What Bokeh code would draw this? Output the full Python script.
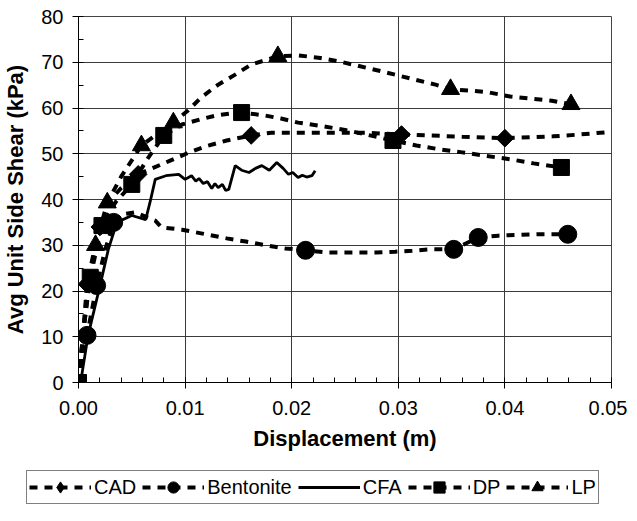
from bokeh.plotting import figure
from bokeh.layouts import column
from bokeh.models import Legend, LegendItem, Range1d, FixedTicker, NumeralTickFormatter
from bokeh.embed import file_html
from bokeh.resources import INLINE

# ---- data ----
cad_x = [0, 0.0004, 0.0008, 0.0013, 0.002, 0.003, 0.004, 0.0056, 0.0069, 0.0086, 0.0101, 0.0119,
         0.0139, 0.0162, 0.0181, 0.0199, 0.0219, 0.0241, 0.027, 0.0303, 0.033, 0.036, 0.040,
         0.0425, 0.0445, 0.047, 0.050]
cad_y = [0, 10, 21.5, 27, 34, 40, 42.5, 45.5, 46.8, 48.5, 50.0, 51.6, 52.9, 54.0, 54.6, 54.6,
         54.6, 54.6, 54.6, 54.2, 54.0, 53.7, 53.4, 53.6, 53.8, 54.2, 54.8]
cad_mx = [0.0008, 0.002, 0.0056, 0.0162, 0.0303, 0.040]
cad_my = [21.5, 34, 45.5, 54.0, 54.2, 53.4]

ben_x = [0, 0.0003, 0.0008, 0.0017, 0.0025, 0.0033, 0.004, 0.0053, 0.0072, 0.0078, 0.0097,
         0.0115, 0.0139, 0.0157, 0.0178, 0.0194, 0.0213, 0.0235, 0.0258, 0.0279, 0.0297, 0.0313,
         0.033, 0.0352, 0.0375, 0.0394, 0.0432, 0.0459]
ben_y = [0, 5, 10.3, 21.2, 29, 35, 36.7, 37.2, 35.4, 33.9, 33.4, 32.6, 31.5, 30.8, 29.9, 29.3,
         28.9, 28.4, 28.4, 28.4, 28.6, 28.8, 29.1, 29.1, 31.7, 32.1, 32.4, 32.4]
ben_mx = [0.0008, 0.0017, 0.0033, 0.0213, 0.0352, 0.0375, 0.0459]
ben_my = [10.3, 21.2, 35, 28.9, 29.1, 31.7, 32.4]

cfa_x = [0, 0.0003, 0.0009, 0.002, 0.0028, 0.0036, 0.005, 0.0063, 0.0067, 0.0072, 0.0082,
         0.0094, 0.0100, 0.0106, 0.0110, 0.0113, 0.0117, 0.0121, 0.0125, 0.0128, 0.0131, 0.0135,
         0.0138, 0.0141, 0.0147, 0.0153, 0.0160, 0.0166, 0.0172, 0.0179, 0.0186, 0.0192, 0.0197,
         0.0201, 0.0206, 0.0210, 0.0214, 0.0219, 0.0222]
cfa_y = [0, 1.5, 10.3, 21, 29.1, 35, 36.5, 35.6, 39.3, 44.4, 45.2, 45.5, 44.4, 45.2, 44.0,
         44.6, 43.5, 43.9, 42.4, 43.5, 42.6, 43.3, 42.0, 42.2, 47.4, 46.4, 45.9, 46.8, 47.4,
         46.4, 48.1, 46.8, 45.5, 45.9, 44.8, 45.3, 44.9, 45.2, 46.3]

dp_x = [0, 0.0005, 0.0011, 0.0022, 0.0035, 0.005, 0.0065, 0.008, 0.0097, 0.0114, 0.013, 0.0143,
        0.0153, 0.0174, 0.019, 0.0206, 0.0227, 0.025, 0.027, 0.0295, 0.0317, 0.0338, 0.036,
        0.038, 0.0405, 0.0427, 0.0453]
dp_y = [0, 12, 23, 34.3, 39.5, 43.3, 49, 54, 56.4, 57.5, 58.4, 58.8, 59.0, 58.4, 57.7, 56.8,
        56.1, 55.2, 54.2, 52.9, 51.8, 51.0, 50.3, 49.6, 48.8, 47.9, 47.0]
dp_mx = [0, 0.0011, 0.0022, 0.005, 0.008, 0.0153, 0.0295, 0.0453]
dp_my = [0, 23, 34.3, 43.3, 54, 59, 52.9, 47]

lp_x = [0, 0.0005, 0.0010, 0.0016, 0.0027, 0.004, 0.0059, 0.0075, 0.0089, 0.0103, 0.0115,
        0.0131, 0.0147, 0.0162, 0.0187, 0.0206, 0.0225, 0.0244, 0.0261, 0.0281, 0.030, 0.0319,
        0.0335, 0.0349, 0.0368, 0.0385, 0.0405, 0.0422, 0.0444, 0.0462]
lp_y = [0, 12, 22, 30, 39.3, 45, 51.8, 54.5, 56.8, 59.5, 62.3, 65.1, 67.3, 69.5, 71.3, 71.5,
        71.0, 70.2, 69.3, 68.2, 67.1, 66.0, 65.1, 64.1, 63.8, 63.4, 62.5, 62.1, 61.6, 60.8]
lp_mx = [0.0016, 0.0027, 0.0059, 0.0089, 0.0187, 0.0349, 0.0462]
lp_my = [30, 39.3, 51.8, 56.8, 71.3, 64.1, 60.8]

series_names = ["CAD", "Bentonite", "CFA", "DP", "LP"]
x_ticks = [0.00, 0.01, 0.02, 0.03, 0.04, 0.05]
y_ticks = [0, 10, 20, 30, 40, 50, 60, 70, 80]

FONT = "Liberation Sans"
DASH = "8 7"
LW = 4
CFA_W = 2.8

p = figure(frame_width=533, frame_height=366, output_backend="svg", toolbar_location=None,
           x_range=Range1d(0, 0.05), y_range=Range1d(0, 80),
           min_border_left=72, min_border_right=16, min_border_top=16, min_border_bottom=80)

p.outline_line_color = "#444444"
p.xgrid.ticker = FixedTicker(ticks=x_ticks)
p.ygrid.ticker = FixedTicker(ticks=y_ticks)
p.grid.grid_line_color = "#3a3a3a"
p.grid.grid_line_width = 1

p.xaxis.ticker = FixedTicker(ticks=x_ticks, minor_ticks=[i * 0.002 for i in range(26)])
p.yaxis.ticker = FixedTicker(ticks=y_ticks, minor_ticks=[i * 5 for i in range(17)])
p.xaxis.formatter = NumeralTickFormatter(format="0.00")
for ax in (p.xaxis, p.yaxis):
    ax.axis_line_color = "black"
    ax.major_tick_line_color = "black"
    ax.minor_tick_line_color = "black"
    ax.major_tick_out = 6
    ax.major_tick_in = 0
    ax.minor_tick_in = 5
    ax.minor_tick_out = 0
    ax.major_label_text_font = FONT
    ax.major_label_text_font_size = "20px"
    ax.major_label_text_color = "black"
    ax.axis_label_text_font = FONT
    ax.axis_label_text_font_size = "22px"
    ax.axis_label_text_font_style = "bold"
    ax.axis_label_text_color = "black"
p.xaxis.axis_label = "Displacement (m)"
p.yaxis.axis_label = "Avg Unit Side Shear (kPa)"
p.xaxis.major_label_standoff = 12
p.xaxis.axis_label_standoff = 8
p.yaxis.major_label_standoff = 9
p.yaxis.axis_label_standoff = 10

series = [
    (cad_x, cad_y, cad_mx, cad_my, "square", 12.5, 0.785),
    (ben_x, ben_y, ben_mx, ben_my, "circle", 18, 0),
    (cfa_x, cfa_y, None, None, None, 0, 0),
    (dp_x, dp_y, dp_mx, dp_my, "square", 16, 0),
    (lp_x, lp_y, lp_mx, lp_my, "triangle", 18, 0),
]
for lx, ly, mx, my, mk, ms, ma in series:
    if mk is None:
        p.line(lx, ly, line_color="black", line_width=CFA_W)
    else:
        p.line(lx, ly, line_color="black", line_width=LW, line_dash=DASH)
        p.scatter(mx, my, marker=mk, size=ms, angle=ma, color="black")

# ---- legend strip (its own renderers lie outside its ranges, so only the legend shows) ----
lg = figure(width=621, height=43, output_backend="svg", toolbar_location=None,
            x_range=Range1d(0, 1), y_range=Range1d(500, 501),
            x_axis_type=None, y_axis_type=None,
            min_border_left=0, min_border_right=0, min_border_top=0, min_border_bottom=0)
lg.frame_align = False
lg.grid.visible = False
lg.outline_line_color = None

legend_markers = ["diamond", "circle", None, "square", "triangle"]
items = []
for name, lmk, (lx, ly, mx, my, mk, ms, ma) in zip(series_names, legend_markers, series):
    if lmk is None:
        r = [lg.line(lx, ly, line_color="black", line_width=CFA_W)]
    else:
        r = [lg.line(lx, ly, line_color="black", line_width=LW, line_dash=DASH),
             lg.scatter(mx, my, marker=lmk, size=ms, color="black")]
    items.append(LegendItem(label=name, renderers=r))

legend = Legend(items=items, orientation="horizontal", location=(26, 1),
                label_text_font=FONT, label_text_font_size="20px", label_text_color="black",
                glyph_width=62, glyph_height=28, label_standoff=3, spacing=6,
                padding=2, margin=0,
                border_line_color="black", border_line_width=1, background_fill_alpha=1)
lg.add_layout(legend, "center")

layout = column(p, lg, spacing=0)
open("out.html", "w").write(file_html(layout, INLINE))
